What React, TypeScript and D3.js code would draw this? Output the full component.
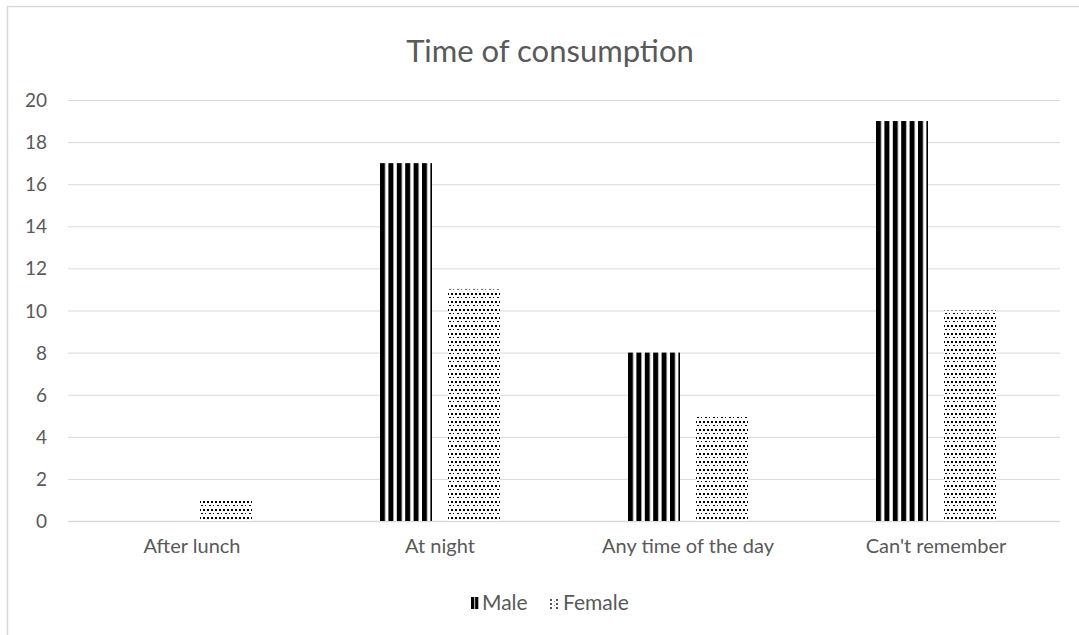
import React from "react";
import * as d3 from "d3";

const categories = ["After lunch", "At night", "Any time of the day", "Can't remember"];
const maleValues = [0, 17, 8, 19];
const femaleValues = [1, 11, 5, 10];
const yTicks = [0, 2, 4, 6, 8, 10, 12, 14, 16, 18, 20];
const seriesNames = ["Male", "Female"];

const W = 1079;
const H = 635;
const FONT = "Lato, 'Open Sans', sans-serif";
const TEXT = "#595959";
const GRID = "#d9d9d9";

export default function App() {
  const left = 68;
  const right = 1060;
  const top = 100;
  const bottom = 521;

  const x = d3.scaleBand<string>().domain(categories).range([left, right]);
  const y = d3.scaleLinear().domain([0, 20]).range([bottom, top]);
  const barW = 52;
  const gap = 16;
  const sub = d3
    .scaleOrdinal<string, number>()
    .domain(seriesNames)
    .range([-(gap / 2) - barW, gap / 2]);

  const series = [
    { name: "Male", values: maleValues, kind: "stripe" },
    { name: "Female", values: femaleValues, kind: "dots" },
  ];

  const bars = series.flatMap((s) =>
    s.values.map((v, i) => {
      const cx = (x(categories[i]) as number) + x.bandwidth() / 2;
      return {
        id: `${s.kind}-${i}`,
        kind: s.kind,
        x: Math.round(cx + sub(s.name)),
        y: y(v),
        h: bottom - y(v),
      };
    })
  );

  return (
    <svg width={W} height={H} style={{ position: "absolute", left: 0, top: 0 }}>
      <defs>
        {bars.map((b) =>
          b.kind === "stripe" ? (
            <pattern key={b.id} id={`p-${b.id}`} patternUnits="userSpaceOnUse" x={b.x} y={0} width={8.4} height={8}>
              <rect width={8.4} height={8} fill="#fff" />
              <rect x={0} width={5} height={8} fill="#000" />
            </pattern>
          ) : (
            <pattern key={b.id} id={`p-${b.id}`} patternUnits="userSpaceOnUse" x={b.x} y={0} width={8} height={8}>
              <rect width={8} height={8} fill="#fff" />
              <rect x={1} y={1} width={2} height={1} fill="#000" />
              <rect x={5} y={1} width={1} height={1} fill="#000" />
              <rect x={3} y={5} width={2} height={2} fill="#000" />
              <rect x={7} y={5} width={1} height={2} fill="#000" />
              <rect x={0} y={5} width={1} height={2} fill="#000" />
            </pattern>
          )
        )}
        <pattern id="leg-stripe" patternUnits="userSpaceOnUse" x={471} y={0} width={4.2} height={8}>
          <rect width={4.2} height={8} fill="#fff" />
          <rect width={3.3} height={8} fill="#000" />
        </pattern>
        <pattern id="leg-dots" patternUnits="userSpaceOnUse" x={550} y={599} width={6} height={4}>
          <rect width={6} height={4} fill="#fff" />
          <rect x={0} y={0} width={2} height={2} fill="#555" />
          <rect x={4} y={2} width={1} height={1} fill="#888" />
        </pattern>
      </defs>
      <rect x={0} y={0} width={W} height={H} fill="#fff" />
      <rect x={7.5} y={6.5} width={W + 10} height={H + 10} fill="none" stroke={GRID} strokeWidth={1.5} />

      <text x={550} y={62} textAnchor="middle" fontFamily={FONT} fontSize={31} fill={TEXT}>
        Time of consumption
      </text>

      {yTicks.map((t) => (
        <g key={t}>
          <line x1={left} x2={right} y1={y(t) + 0.5} y2={y(t) + 0.5} stroke={GRID} strokeWidth={t === 0 ? 1.5 : 1} />
          <text x={47} y={y(t) + 7} textAnchor="end" fontFamily={FONT} fontSize={19} fill={TEXT}>
            {t}
          </text>
        </g>
      ))}

      {bars.map((b) =>
        b.h > 0 ? (
          <rect key={b.id} x={b.x} y={b.y} width={barW} height={b.h} fill={`url(#p-${b.id})`} />
        ) : null
      )}

      {categories.map((c) => (
        <text
          key={c}
          x={(x(c) as number) + x.bandwidth() / 2}
          y={553}
          textAnchor="middle"
          fontFamily={FONT}
          fontSize={20}
          fill={TEXT}
        >
          {c}
        </text>
      ))}

      <g>
        <rect x={471} y={597} width={7.6} height={12} fill="url(#leg-stripe)" />
        <text x={482} y={610} fontFamily={FONT} fontSize={21} fill={TEXT}>
          {seriesNames[0]}
        </text>
        <rect x={550} y={599} width={9} height={10} fill="url(#leg-dots)" />
        <text x={563} y={610} fontFamily={FONT} fontSize={21} fill={TEXT}>
          {seriesNames[1]}
        </text>
      </g>
    </svg>
  );
}
